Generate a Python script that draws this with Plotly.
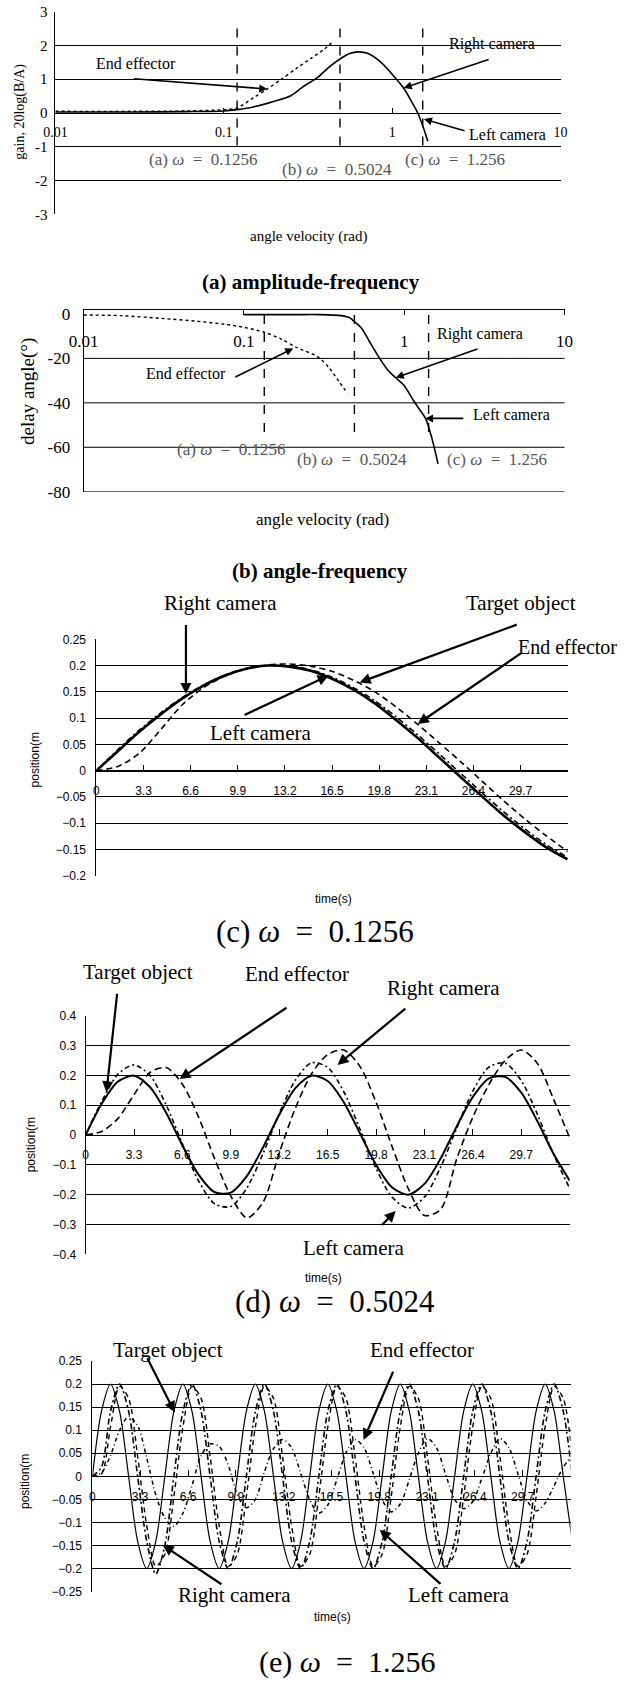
import plotly.graph_objects as go

W, H = 630, 1684
SERIF = "Liberation Serif"
SANS = "Liberation Sans"

# ---------------- data: (a) amplitude-frequency ----------------
a_cam_w = [0.01, 0.03, 0.06, 0.1, 0.12, 0.15, 0.2, 0.25, 0.3, 0.36, 0.42, 0.49, 0.56, 0.63, 0.72, 0.85, 1.0, 1.17, 1.3, 1.42, 1.53, 1.63]
a_cam_gain = [0.03, 0.03, 0.04, 0.06, 0.1, 0.18, 0.35, 0.51, 0.8, 1.05, 1.35, 1.6, 1.76, 1.81, 1.76, 1.52, 1.15, 0.74, 0.35, 0.0, -0.42, -0.84]
a_ee_w = [0.01, 0.03, 0.06, 0.1, 0.12, 0.15, 0.18, 0.22, 0.27, 0.33, 0.39, 0.436]
a_ee_gain = [0.05, 0.05, 0.06, 0.1, 0.15, 0.45, 0.7, 1.0, 1.32, 1.62, 1.87, 2.07]
a_mark_w = [0.12, 0.49, 1.52]
a_mark_span = [2.5, -1.0]
a_xticks = [0.01, 0.1, 1, 10]
a_xtext = ["0.01", "0.1", "1", "10"]
a_yticks = [-3, -2, -1, 0, 1, 2, 3]
a_ytext = ["-3", "-2", "-1", "0", "1", "2", "3"]

# ---------------- data: (b) angle-frequency ----------------
b_cam_w = [0.1, 0.2, 0.3, 0.406, 0.456, 0.489, 0.542, 0.608, 0.703, 0.789, 0.885, 0.993, 1.148, 1.253, 1.365, 1.489, 1.626]
b_cam_phase = [-0.3, -0.3, -0.3, -0.75, -1.65, -3.45, -6.45, -12.5, -20, -25.2, -28.7, -32, -39.2, -43.2, -47.3, -56, -67.5]
b_ee_w = [0.01, 0.017, 0.03, 0.054, 0.076, 0.1, 0.134, 0.171, 0.215, 0.288, 0.342, 0.395, 0.444]
b_ee_phase = [-0.45, -0.75, -1.95, -3.45, -4.65, -6, -8.25, -11.3, -15.2, -19.2, -24.5, -30.8, -35.7]
b_mark_w = [0.134, 0.489, 1.42]
b_mark_span = [-0.5, -55]
b_yticks = [0, -20, -40, -60, -80]
b_ytext = ["0", "-20", "-40", "-60", "-80"]
b_grid = [-20, -40, -60, -80]

# ---------------- data: time responses ----------------
t_ticks = [0, 3.3, 6.6, 9.9, 13.2, 16.5, 19.8, 23.1, 26.4, 29.7, 33]
t_text = ["0", "3.3", "6.6", "9.9", "13.2", "16.5", "19.8", "23.1", "26.4", "29.7", ""]

# (c) omega = 0.1256
c_t = [0, 1.5, 3, 4.5, 6, 7.5, 9, 10.5, 12, 13.5, 15, 16.5, 18, 19.5, 21, 22.5, 24, 25.5, 27, 28.5, 30, 31.5, 33]
c_target = [0, 0.037, 0.074, 0.107, 0.137, 0.162, 0.181, 0.194, 0.200, 0.198, 0.190, 0.175, 0.154, 0.128, 0.096, 0.062, 0.025, -0.012, -0.049, -0.085, -0.117, -0.146, -0.169]
c_camera = [0, 0.040, 0.077, 0.110, 0.139, 0.163, 0.182, 0.195, 0.200, 0.199, 0.192, 0.178, 0.158, 0.133, 0.102, 0.068, 0.032, -0.005, -0.042, -0.078, -0.111, -0.141, -0.165]
c_ee = [0.000, 0.008, 0.033, 0.078, 0.125, 0.158, 0.180, 0.194, 0.201, 0.203, 0.199, 0.189, 0.172, 0.150, 0.121, 0.088, 0.053, 0.017, -0.020, -0.057, -0.092, -0.124, -0.154]
c_yticks = [0.25, 0.2, 0.15, 0.1, 0.05, 0, -0.05, -0.1, -0.15, -0.2]
c_ytext = ["0.25", "0.2", "0.15", "0.1", "0.05", "0", "\u22120.05", "\u22120.1", "\u22120.15", "\u22120.2"]

# (d) omega = 0.5024
d_t = [0, 1.1, 2.2, 3.3, 4.4, 5.5, 6.6, 7.7, 8.8, 9.9, 11, 12.1, 13.2, 14.3, 15.4, 16.5, 17.6, 18.7, 19.8, 20.9, 22, 23.1, 24.2, 25.3, 26.4, 27.5, 28.6, 29.7, 30.8, 31.9, 33]
d_target = [0, 0.105, 0.179, 0.199, 0.160, 0.074, -0.035, -0.133, -0.192, -0.193, -0.137, -0.041, 0.068, 0.157, 0.199, 0.181, 0.110, 0.006, -0.100, -0.176, -0.200, -0.164, -0.079, 0.029, 0.128, 0.190, 0.195, 0.142, 0.046, -0.063, -0.153]
d_camera = [0, 0.113, 0.204, 0.235, 0.199, 0.100, -0.030, -0.154, -0.231, -0.240, -0.177, -0.062, 0.072, 0.184, 0.242, 0.227, 0.145, 0.020, -0.112, -0.209, -0.245, -0.208, -0.108, 0.023, 0.148, 0.228, 0.241, 0.182, 0.069, -0.065, -0.179]
d_ee = [0.000, 0.012, 0.055, 0.135, 0.210, 0.226, 0.170, 0.060, -0.080, -0.205, -0.278, -0.225, -0.060, 0.090, 0.205, 0.270, 0.285, 0.230, 0.110, -0.040, -0.180, -0.270, -0.250, -0.080, 0.060, 0.170, 0.250, 0.285, 0.240, 0.120, -0.010]
d_yticks = [0.4, 0.3, 0.2, 0.1, 0, -0.1, -0.2, -0.3, -0.4]
d_ytext = ["0.4", "0.3", "0.2", "0.1", "0", "\u22120.1", "\u22120.2", "\u22120.3", "\u22120.4"]

# (e) omega = 1.256
e_t = [0, 0.625, 1.25, 1.875, 2.5, 3.125, 3.75, 4.375, 5, 5.625, 6.25, 6.875, 7.5, 8.125, 8.75, 9.375,
       10, 10.625, 11.25, 11.875, 12.5, 13.125, 13.75, 14.375, 15, 15.625, 16.25, 16.875, 17.5, 18.125,
       18.75, 19.375, 20, 20.625, 21.25, 21.875, 22.5, 23.125, 23.75, 24.375, 25, 25.625, 26.25, 26.875,
       27.5, 28.125, 28.75, 29.375, 30, 30.625, 31.25, 31.875, 32.5, 33.125]
e_target = [0, 0.141, 0.2, 0.141, 0, -0.141, -0.2, -0.141, 0, 0.141, 0.2, 0.141, 0, -0.141, -0.2, -0.141,
            0, 0.141, 0.2, 0.141, 0, -0.141, -0.2, -0.141, 0, 0.141, 0.2, 0.141, 0, -0.141, -0.2, -0.141,
            0, 0.141, 0.2, 0.141, 0, -0.141, -0.2, -0.141, 0, 0.141, 0.2, 0.141, 0, -0.141, -0.2, -0.141,
            0, 0.141, 0.2, 0.141, 0, -0.141]
e_rcam = [0, 0.02, 0.141, 0.2, 0.141, 0, -0.141, -0.212, -0.15, 0, 0.141, 0.2, 0.141, 0, -0.141, -0.2,
          -0.141, 0, 0.141, 0.2, 0.141, 0, -0.141, -0.2, -0.141, 0, 0.141, 0.2, 0.141, 0, -0.141, -0.2,
          -0.141, 0, 0.141, 0.2, 0.141, 0, -0.141, -0.2, -0.141, 0, 0.141, 0.2, 0.141, 0, -0.141, -0.2,
          -0.141, 0, 0.141, 0.2, 0.141, 0]
e_lcam = [0, 0.005, 0.107, 0.195, 0.169, 0.043, -0.107, -0.195, -0.169, -0.044, 0.107, 0.195, 0.169, 0.043,
          -0.107, -0.195, -0.169, -0.044, 0.107, 0.195, 0.169, 0.043, -0.107, -0.195, -0.169, -0.044, 0.107,
          0.195, 0.169, 0.043, -0.107, -0.195, -0.169, -0.044, 0.107, 0.195, 0.169, 0.043, -0.107, -0.195,
          -0.169, -0.044, 0.107, 0.195, 0.169, 0.043, -0.107, -0.195, -0.169, -0.044, 0.107, 0.195, 0.169, 0.043]
e_ee = [0, 0.008, 0.045, 0.100, 0.130, 0.110, 0.040, -0.040, -0.090, -0.108, -0.080, -0.020, 0.045, 0.070,
        0.065, 0.025, -0.040, -0.068, -0.050, 0.010, 0.060, 0.080, 0.062, 0.007, -0.051, -0.080, -0.062,
        -0.007, 0.051, 0.080, 0.062, 0.007, -0.051, -0.077, -0.060, -0.007, 0.051, 0.082, 0.062, 0.005,
        -0.050, -0.070, -0.055, -0.005, 0.050, 0.082, 0.062, 0.005, -0.052, -0.075, -0.058, -0.020, 0.020, 0.045]
e_yticks = [0.25, 0.2, 0.15, 0.1, 0.05, 0, -0.05, -0.1, -0.15, -0.2, -0.25]
e_ytext = ["0.25", "0.2", "0.15", "0.1", "0.05", "0", "\u22120.05", "\u22120.1", "\u22120.15", "\u22120.2", "\u22120.25"]


# ---------------- helpers ----------------
def fx(p):
    return p / W


def fy(p):
    return 1 - p / H


fig = go.Figure()


def line(x, y, ax, dash="solid", width=1.5, shape="spline"):
    fig.add_trace(go.Scatter(x=x, y=y, mode="lines", xaxis="x" + ax, yaxis="y" + ax,
                             line=dict(color="black", width=width, dash=dash, shape=shape,
                                       smoothing=0.8),
                             hoverinfo="skip", showlegend=False))


# (a)
line(a_cam_w, a_cam_gain, "", width=1.6)
line(a_ee_w, a_ee_gain, "", dash="dot", width=1.4)
for w in a_mark_w:
    line([w, w], a_mark_span, "", dash="dash", width=1.4, shape="linear")

# (b)
line(b_cam_w, b_cam_phase, "2", width=1.6)
line(b_ee_w, b_ee_phase, "2", dash="dot", width=1.4)
for w in b_mark_w:
    line([w, w], b_mark_span, "2", dash="dash", width=1.4, shape="linear")

# (c)
line(c_t, c_target, "3", width=2.6)
line(c_t, c_camera, "3", dash="6px,3px,2px,3px", width=1.6)
line(c_t, c_ee, "3", dash="6px,4px", width=1.6)

# (d)
line(d_t, d_target, "4", width=2.0)
line(d_t, d_camera, "4", dash="5px,3px,2px,3px", width=1.6)
line(d_t, d_ee, "4", dash="7px,4px", width=1.6)

# (e)
line(e_t, e_target, "5", width=1.2)
line(e_t, e_rcam, "5", dash="6px,3px,2px,3px", width=1.6)
line(e_t, e_lcam, "5", dash="5px,4px", width=1.4)
line(e_t, e_ee, "5", dash="4px,3px,1px,3px", width=1.5)

# ---------------- axes ----------------
common_line = dict(showline=True, linecolor="black", linewidth=1, zeroline=False, automargin=False)

layout = dict(
    width=W, height=H, margin=dict(l=0, r=0, t=0, b=0, pad=0, autoexpand=False),
    paper_bgcolor="white", plot_bgcolor="white", showlegend=False,
)

# (a)
layout["xaxis"] = dict(type="log", range=[-2, 1], domain=[fx(55.4), fx(560.5)], anchor="free",
                       position=fy(113.0), showgrid=False, ticks="inside", ticklen=5, tickcolor="black",
                       tickvals=a_xticks, ticktext=a_xtext, tickfont=dict(family=SERIF, size=14, color="black"),
                       ticklabelstandoff=6, **common_line)
layout["yaxis"] = dict(range=[-3, 3], domain=[fy(214.3), fy(11.7)], anchor="x", showgrid=True,
                       gridcolor="black", gridwidth=1, tickvals=a_yticks, ticktext=a_ytext, ticks="",
                       tickfont=dict(family=SERIF, size=15, color="black"), ticklabelstandoff=4, **common_line)
# (b)
layout["xaxis2"] = dict(type="log", range=[-2, 1], domain=[fx(83.6), fx(564.5)], anchor="free",
                        position=fy(309.3), side="bottom", showgrid=False, ticks="outside", ticklen=5,
                        tickcolor="black", tickvals=a_xticks, ticktext=a_xtext,
                        tickfont=dict(family=SERIF, size=17, color="black"), ticklabelstandoff=11, **common_line)
layout["yaxis2"] = dict(range=[-80, 2.1], domain=[fy(491.7), fy(309.3)], anchor="x2", showgrid=False,
                        tickvals=b_yticks, ticktext=b_ytext, ticks="",
                        tickfont=dict(family=SERIF, size=17, color="black"), ticklabelstandoff=9, **common_line)

time_x = dict(range=[0, 33], anchor="free", showgrid=False, ticks="inside", ticklen=6, tickcolor="black",
              tickvals=t_ticks, ticktext=t_text, tickfont=dict(family=SANS, size=12, color="black"),
              ticklabelstandoff=9, **common_line)
time_y = dict(showgrid=True, gridcolor="black", gridwidth=1, ticks="",
              tickfont=dict(family=SANS, size=12, color="black"), **common_line)

layout["xaxis3"] = dict(domain=[fx(96.4), fx(567.7)], position=fy(770.6), **time_x)
layout["yaxis3"] = dict(range=[-0.2, 0.25], domain=[fy(875.7), fy(639.3)], anchor="x3",
                        tickvals=c_yticks, ticktext=c_ytext, ticklabelstandoff=7, **time_y)
layout["xaxis4"] = dict(domain=[fx(85.6), fx(569.7)], position=fy(1135.0), **time_x)
layout["yaxis4"] = dict(range=[-0.4, 0.4], domain=[fy(1254.3), fy(1015.7)], anchor="x4",
                        tickvals=d_yticks, ticktext=d_ytext, ticklabelstandoff=6, **time_y)
layout["xaxis5"] = dict(domain=[fx(92.4), fx(570.5)], position=fy(1476.35), **time_x)
layout["yaxis5"] = dict(range=[-0.25, 0.25], domain=[fy(1591.7), fy(1361.0)], anchor="x5",
                        tickvals=e_yticks, ticktext=e_ytext, ticklabelstandoff=7, **time_y)

# gridlines for (b) (no grid at 0)
shapes = []
for g in b_grid:
    shapes.append(dict(type="line", xref="x2 domain", x0=0, x1=1, yref="y2", y0=g, y1=g,
                       line=dict(color="black", width=1), layer="below"))
layout["shapes"] = shapes

# ---------------- annotations ----------------
ann = []


def text(x, y, s, ax, size, family=SERIF, color="black", anchor="center", angle=0):
    ann.append(dict(x=x, y=y, xref="x" + ax, yref="y" + ax, text=s, showarrow=False,
                    xanchor=anchor, yanchor="middle", textangle=angle,
                    font=dict(family=family, size=size, color=color)))


def arrow(hx, hy, tx, ty, ax, width=1.6, size=1.0):
    ann.append(dict(x=hx, y=hy, ax=tx, ay=ty, xref="x" + ax, yref="y" + ax, axref="x" + ax,
                    ayref="y" + ax, text="", showarrow=True, arrowhead=2, arrowsize=size,
                    arrowwidth=width, arrowcolor="black", standoff=0))


def ptext(xp, yp, s, size, family=SERIF, color="black", angle=0, anchor="center"):
    ann.append(dict(x=fx(xp), y=fy(yp), xref="paper", yref="paper", text=s, showarrow=False,
                    xanchor=anchor, yanchor="middle", textangle=angle,
                    font=dict(family=family, size=size, color=color)))


SP = "\u2002"
GRAY = "#555555"

# (a)
text(-1.523, 1.46, "End effector", "", 16)
arrow(-0.742, 0.71, -1.542, 1.02, "")
text(0.594, 2.04, "Right camera", "", 16)
arrow(0.069, 0.74, 0.582, 1.6, "")
text(0.683, -0.64, "Left camera", "", 16)
arrow(0.189, -0.18, 0.439, -0.54, "")
text(-1.126, -1.38, "(a) <i>ω</i>" + SP + "=" + SP + "0.1256", "", 17, color=GRAY)
text(-0.325, -1.68, "(b) <i>ω</i>" + SP + "=" + SP + "0.5024", "", 17, color=GRAY)
text(0.375, -1.38, "(c) <i>ω</i>" + SP + "=" + SP + "1.256", "", 17, color=GRAY)
ptext(20, 111.7, "gain, 20log(B/A)", 14, angle=-90)
ptext(308, 237, "angle velocity (rad)", 15)
ptext(311, 281.7, "<b>(a) amplitude-frequency</b>", 21)

# (b)
text(-1.363, -27.0, "End effector", "2", 16)
arrow(-0.692, -15.5, -1.063, -28.7, "2")
text(0.476, -9.2, "Right camera", "2", 16)
arrow(-0.053, -28.7, 0.466, -15.5, "2")
text(0.667, -45.2, "Left camera", "2", 16)
arrow(0.13, -47, 0.378, -47, "2")
text(-1.08, -60.8, "(a) <i>ω</i>" + SP + "=" + SP + "0.1256", "2", 17, color=GRAY)
text(-0.328, -65.3, "(b) <i>ω</i>" + SP + "=" + SP + "0.5024", "2", 17, color=GRAY)
text(0.576, -65.3, "(c) <i>ω</i>" + SP + "=" + SP + "1.256", "2", 17, color=GRAY)
ptext(27.3, 391.7, "delay angle(°)", 19, angle=-90)
ptext(322, 519, "angle velocity (rad)", 17)
ptext(320, 571, "<b>(b) angle-frequency</b>", 21)

# (c)
ptext(220, 602.7, "Right camera", 21)
arrow(6.27, 0.146, 6.27, 0.280, "3", width=2.2)
ptext(521.3, 602.7, "Target object", 21)
arrow(18.43, 0.168, 29.54, 0.279, "3", width=2.2)
ptext(516, 646.7, "End effector", 20, anchor="left")
arrow(22.5, 0.089, 29.82, 0.225, "3", width=2.2)
ptext(261.2, 733.3, "Left camera", 21)
arrow(16.26, 0.181, 10.27, 0.1047, "3", width=2.2)
ptext(35.4, 760, "position(m", 12, family=SANS, angle=-90)
ptext(333, 899.3, "time(s)", 12, family=SANS)
ptext(315, 931.7, "(c) <i>ω</i>" + SP + "=" + SP + "0.1256", 31)

# (d)
ptext(137.6, 972.3, "Target object", 21)
arrow(1.42, 0.143, 2.16, 0.478, "4", width=2.2)
ptext(297.3, 974, "End effector", 21)
arrow(6.41, 0.188, 13.8, 0.430, "4", width=2.2)
ptext(443, 988.3, "Right camera", 21)
arrow(17.17, 0.235, 21.9, 0.428, "4", width=2.2)
ptext(354, 1247.7, "Left camera", 21)
arrow(21.14, -0.255, 20.1, -0.307, "4", width=2.2)
ptext(31.3, 1145, "position(m", 12, family=SANS, angle=-90)
ptext(324, 1277.7, "time(s)", 12, family=SANS)
ptext(334.5, 1301.7, "(d) <i>ω</i>" + SP + "=" + SP + "0.5024", 31)

# (e)
ptext(167.7, 1350, "Target object", 21)
arrow(5.68, 0.139, 3.74, 0.259, "5", width=2.2)
ptext(421.9, 1350, "End effector", 21)
arrow(18.72, 0.079, 20.8, 0.230, "5", width=2.2)
ptext(234, 1595, "Right camera", 21)
arrow(4.85, -0.149, 9.01, -0.236, "5", width=2.2)
ptext(458.6, 1595, "Left camera", 21)
arrow(19.83, -0.116, 24.13, -0.236, "5", width=2.2)
ptext(25, 1482, "position(m", 12, family=SANS, angle=-90)
ptext(332, 1616.7, "time(s)", 12, family=SANS)
ptext(347, 1662, "(e) <i>ω</i>" + SP + "=" + SP + "1.256", 30)

layout["annotations"] = ann
fig.update_layout(**layout)

# the page's default body margin would offset the figure by 8px; remove it
fig.write_html("out.html", config={"displayModeBar": False},
               post_script="document.body.style.margin='0px';")
